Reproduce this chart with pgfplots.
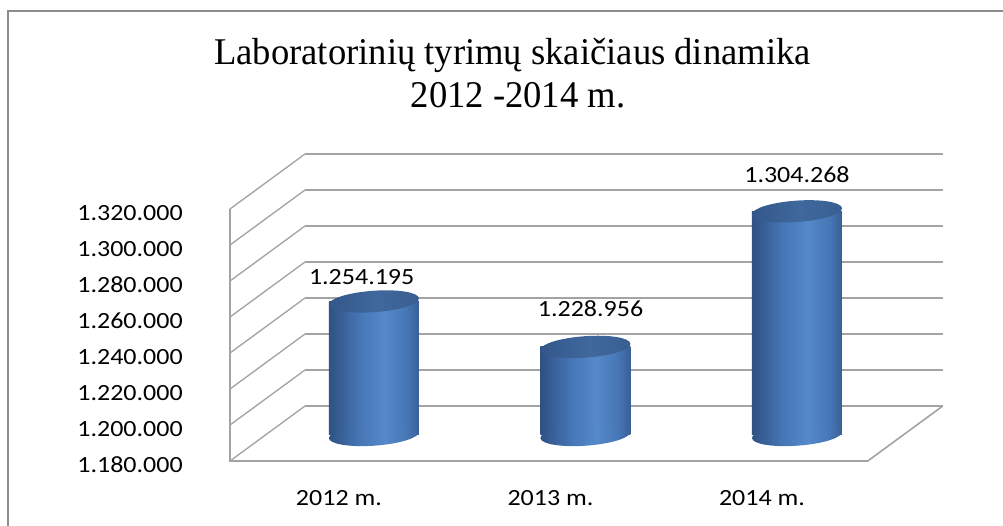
\documentclass[border=0pt]{standalone}
\usepackage{pgfplots}
\usepackage{pgfplotstable}
\pgfplotsset{compat=1.18}
\usepackage{fontspec}
\setmainfont{Carlito}[FakeStretch=1.12]
\newfontfamily\titlefont{Liberation Serif}[FakeStretch=0.97]
\definecolor{gridc}{HTML}{A3A3A3}
\definecolor{framec}{HTML}{8C8C8C}
\definecolor{bodyD}{HTML}{2F5184}
\definecolor{bodyM}{HTML}{4676B5}
\definecolor{bodyL}{HTML}{5589C9}
\definecolor{bodyD2}{HTML}{3A6096}
\definecolor{topD}{HTML}{33578A}
\definecolor{topL}{HTML}{40689D}
\definecolor{topD2}{HTML}{395E91}
\pgfdeclarehorizontalshading{cylbody}{100bp}{color(0bp)=(bodyD); color(25bp)=(bodyD); color(42bp)=(bodyM); color(56bp)=(bodyL); color(68bp)=(bodyM); color(75bp)=(bodyD2); color(100bp)=(bodyD2)}
\pgfdeclarehorizontalshading{cyltopsh}{100bp}{color(0bp)=(topD); color(25bp)=(topD); color(52bp)=(topL); color(75bp)=(topD2); color(100bp)=(topD2)}
\pgfdeclareplotmark{cylbot}{%
  \pgfpathellipse{\pgfpointorigin}{\pgfqpoint{33.75pt}{2.4pt}}{\pgfqpoint{-0.6pt}{8pt}}%
  \pgfshadepath{cylbody}{0}\pgfusepath{discard}}
\pgfdeclareplotmark{cyltop}{%
  \pgfpathellipse{\pgfpointorigin}{\pgfqpoint{33.75pt}{2.4pt}}{\pgfqpoint{-0.6pt}{8pt}}%
  \pgfshadepath{cyltopsh}{0}\pgfusepath{discard}}
\newcommand{\ticksize}{\fontsize{17.4pt}{20pt}\selectfont}

% bar values
\pgfplotstableread{
x y
0 1254195
1 1228956
2 1304268
}\bardata
% value labels: positions
\pgfplotstableread{
x y lab
-0.058 1267500 1.254.195
1.024 1250167 1.228.956
2.000 1324444 1.304.268
}\labdata

\begin{document}
\begin{tikzpicture}
\useasboundingbox (0,0) rectangle (752.25pt,393.75pt);
% outer frame
\draw[framec, line width=1.5pt] (6pt,-2pt) -- (6pt,385.5pt) -- (760pt,385.5pt);
% title
\node[anchor=base, inner sep=0pt, font=\titlefont\fontsize{28.3pt}{32pt}\selectfont] at (384.4pt,345pt) {Laboratorinių tyrimų skaičiaus dinamika};
\node[anchor=base, inner sep=0pt, font=\titlefont\fontsize{28.3pt}{32pt}\selectfont] at (388.5pt,312.75pt) {2012 -2014 m.};

% front plane: walls, floor, ticks
\begin{axis}[
  at={(172.5pt,48pt)}, anchor=south west,
  scale only axis, width=478.3pt, height=189pt,
  xmin=-0.515, xmax=2.5, ymin=1180000, ymax=1320000,
  clip=false,
  axis line style={draw=none},
  tick style={draw=none}, major tick length=0pt,
  scaled y ticks=false, scaled x ticks=false,
  xtick={0,1,2}, xticklabels={2012 m.,2013 m.,2014 m.},
  ytick={1180000,1200000,1220000,1240000,1260000,1280000,1300000,1320000},
  yticklabels={1.180.000,1.200.000,1.220.000,1.240.000,1.260.000,1.280.000,1.300.000,1.320.000},
  yticklabel style={anchor=east, inner sep=0pt, xshift=-35.25pt, yshift=-3pt},
  xticklabel style={anchor=north, inner sep=0pt, yshift=-21.75pt},
  tick label style={font=\ticksize},
  /pgf/number format/assume math mode=true,
]
% back wall gridlines
\addplot[gridc, line width=1.6pt, mark=none] coordinates {(-0.1604,1210556) (2.8546,1210556)};
\addplot[gridc, line width=1.6pt, mark=none] coordinates {(-0.1604,1230556) (2.8546,1230556)};
\addplot[gridc, line width=1.6pt, mark=none] coordinates {(-0.1604,1250556) (2.8546,1250556)};
\addplot[gridc, line width=1.6pt, mark=none] coordinates {(-0.1604,1270556) (2.8546,1270556)};
\addplot[gridc, line width=1.6pt, mark=none] coordinates {(-0.1604,1290556) (2.8546,1290556)};
\addplot[gridc, line width=1.6pt, mark=none] coordinates {(-0.1604,1310556) (2.8546,1310556)};
\addplot[gridc, line width=1.6pt, mark=none] coordinates {(-0.1604,1330556) (2.8546,1330556)};
\addplot[gridc, line width=1.6pt, mark=none] coordinates {(-0.1604,1350556) (2.8546,1350556)};
% left wall diagonals
\addplot[gridc, line width=1pt, mark=none] coordinates {(-0.515,1180000) (-0.1604,1210556)};
\addplot[gridc, line width=1pt, mark=none] coordinates {(-0.515,1200000) (-0.1604,1230556)};
\addplot[gridc, line width=1pt, mark=none] coordinates {(-0.515,1220000) (-0.1604,1250556)};
\addplot[gridc, line width=1pt, mark=none] coordinates {(-0.515,1240000) (-0.1604,1270556)};
\addplot[gridc, line width=1pt, mark=none] coordinates {(-0.515,1260000) (-0.1604,1290556)};
\addplot[gridc, line width=1pt, mark=none] coordinates {(-0.515,1280000) (-0.1604,1310556)};
\addplot[gridc, line width=1pt, mark=none] coordinates {(-0.515,1300000) (-0.1604,1330556)};
\addplot[gridc, line width=1pt, mark=none] coordinates {(-0.515,1320000) (-0.1604,1350556)};
% front edges of walls and floor
\addplot[gridc, line width=1.2pt, mark=none] coordinates {(-0.515,1320000) (-0.515,1180000) (2.5,1180000) (2.8546,1210556)};
\end{axis}

% mid-depth plane: cylinders
\begin{axis}[
  at={(198.75pt,67.5pt)}, anchor=south west,
  scale only axis, width=478.3pt, height=243pt,
  xmin=-0.515, xmax=2.5, ymin=1180000, ymax=1360000,
  hide axis,
]
\addplot[only marks, mark=cylbot] coordinates {(0,1180000) (1,1180000) (2,1180000)};
\addplot[ybar, bar width=67.5pt, bar shift=0pt, draw=none, shade, shading=cylbody] table[x=x, y=y, skip coords between index={1}{3}] {\bardata};
\addplot[ybar, bar width=67.5pt, bar shift=0pt, draw=none, shade, shading=cylbody] table[x=x, y=y, skip coords between index={0}{1}, skip coords between index={2}{3}] {\bardata};
\addplot[ybar, bar width=67.5pt, bar shift=0pt, draw=none, shade, shading=cylbody] table[x=x, y=y, skip coords between index={0}{2}] {\bardata};
\addplot[only marks, mark=cyltop] table[x=x, y=y] {\bardata};
\addplot[only marks, mark=none,
  point meta=explicit symbolic,
  nodes near coords,
  every node near coord/.append style={anchor=center, font=\ticksize},
] table[x=x, y=y, meta=lab] {\labdata};
\end{axis}
\end{tikzpicture}
\end{document}
